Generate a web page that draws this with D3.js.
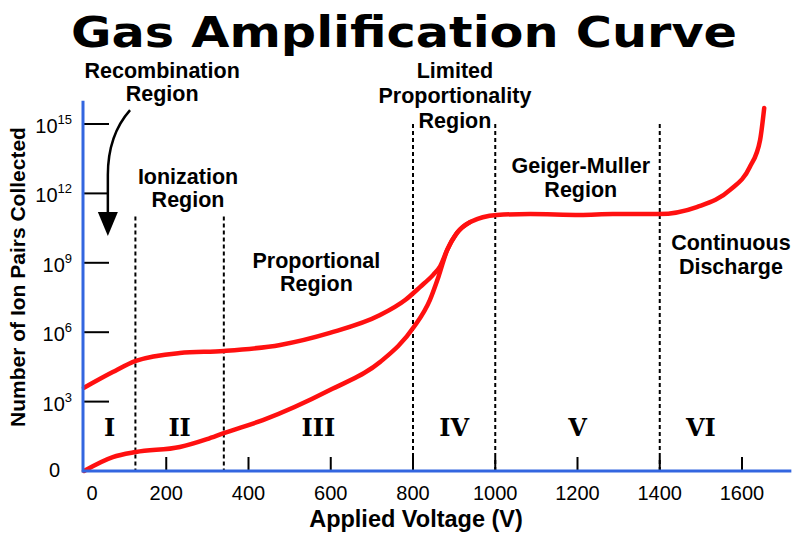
<!DOCTYPE html>
<html>
<head>
<meta charset="utf-8">
<script src="https://cdn.jsdelivr.net/npm/d3@7"></script>
<style>
  body { margin: 0; background: #fff; }
  text { font-family: "Liberation Sans", Arial, sans-serif; fill: #000; }
</style>
</head>
<body>
<svg id="chart" width="800" height="534"></svg>
<script>
// axis ticks
var voltageTicks = [0, 200, 400, 600, 800, 1000, 1200, 1400, 1600];
var exponentTicks = [3, 6, 9, 12, 15];

// region boundaries (V) and numerals
var regionBounds = [125, 340, 800, 1000, 1400];
var regionEdges = [0, 125, 340, 800, 1000, 1400, 1600];
var regionNumerals = ["I", "II", "III", "IV", "V", "VI"];

// upper curve (alpha particles): voltage and log10(ion pairs)
var upperVolts = [0, 70, 126, 233, 340, 477, 598, 720, 781, 817, 850, 866, 883, 907, 939, 1004, 1085, 1206, 1286, 1398, 1490, 1571, 1619, 1644, 1654];
var upperExp   = [3.6, 4.28, 4.76, 5.1, 5.19, 5.45, 5.97, 6.74, 7.39, 7.95, 8.5, 8.85, 9.55, 10.29, 10.76, 11.07, 11.11, 11.07, 11.11, 11.11, 11.41, 12.15, 13.14, 14.31, 15.69];

// lower curve (beta particles)
var lowerVolts = [0, 70, 126, 233, 299, 340, 435, 598, 720, 802, 841, 862, 883, 907, 939];
var lowerExp   = [0, 0.6, 0.82, 1.04, 1.38, 1.64, 2.2, 3.5, 4.71, 6.22, 7.39, 8.4, 9.55, 10.29, 10.76];

// text annotations: lines, centre voltage, log10 of first baseline
var annotLines = [["Recombination", "Region"], ["Ionization", "Region"], ["Proportional", "Region"],
                  ["Limited", "Proportionality", "Region"], ["Geiger-Muller", "Region"], ["Continuous", "Discharge"]];
var annotVolts = [190, 253, 565, 902, 1208, 1573];
var annotExp   = [16.99, 12.41, 8.78, 16.99, 12.88, 9.55];

var svg = d3.select("#chart");

var x = d3.scaleLinear().domain([0, 1600]).range([84, 742]);
var y = d3.scaleLog().domain([1, 1e15]).range([471, 124]);

var blue = "#3366e0", red = "#ff1010";

// title
svg.append("text")
  .attr("x", 404).attr("y", 47)
  .attr("text-anchor", "middle")
  .attr("textLength", 666).attr("lengthAdjust", "spacingAndGlyphs")
  .style("font-family", "'DejaVu Sans', sans-serif")
  .style("font-weight", "bold").style("font-size", "42px")
  .text("Gas Amplification Curve");

// dashed region boundaries
var dashTops = [11, 11, 15.0, 15.0, 15.0];
svg.selectAll(".bound").data(regionBounds).enter().append("line")
  .attr("class", "bound")
  .attr("x1", function (d) { return x(d); }).attr("x2", function (d) { return x(d); })
  .attr("y1", function (d, i) { return y(Math.pow(10, dashTops[i])); })
  .attr("y2", y(1))
  .attr("stroke", "#000").attr("stroke-width", 2)
  .attr("stroke-dasharray", "4,3");

// ticks (inward)
svg.selectAll(".xtick").data(voltageTicks.slice(1)).enter().append("line")
  .attr("x1", function (d) { return x(d); }).attr("x2", function (d) { return x(d); })
  .attr("y1", y(1)).attr("y2", y(1) - 14)
  .attr("stroke", "#000").attr("stroke-width", 2);

svg.selectAll(".ytick").data(exponentTicks).enter().append("line")
  .attr("x1", x(0)).attr("x2", x(0) + 25)
  .attr("y1", function (d) { return y(Math.pow(10, d)); })
  .attr("y2", function (d) { return y(Math.pow(10, d)); })
  .attr("stroke", "#000").attr("stroke-width", 2);

// tick labels
svg.selectAll(".xlab").data(voltageTicks).enter().append("text")
  .attr("x", function (d) { return d === 0 ? x(d) + 8 : x(d); })
  .attr("y", 500)
  .attr("text-anchor", "middle")
  .style("font-size", "20px")
  .text(function (d) { return d; });

var ylab = svg.selectAll(".ylab").data(exponentTicks).enter().append("text")
  .attr("x", 72)
  .attr("y", function (d) { return y(Math.pow(10, d)) + 9; })
  .attr("text-anchor", "end")
  .style("font-size", "20px");
ylab.append("tspan").text("10");
ylab.append("tspan").attr("dy", -9).style("font-size", "13px").text(function (d) { return d; });

svg.append("text")
  .attr("x", 60).attr("y", y(1) + 6)
  .attr("text-anchor", "end")
  .style("font-size", "20px")
  .text("0");

// axis titles
svg.append("text")
  .attr("transform", "translate(25,277) rotate(-90)")
  .attr("text-anchor", "middle")
  .style("font-weight", "bold").style("font-size", "21px")
  .text("Number of Ion Pairs Collected");

svg.append("text")
  .attr("x", 416).attr("y", 527)
  .attr("text-anchor", "middle")
  .style("font-weight", "bold").style("font-size", "23.5px")
  .text("Applied Voltage (V)");

// region numerals
svg.selectAll(".num").data(regionNumerals).enter().append("text")
  .attr("x", function (d, i) { return x((regionEdges[i] + regionEdges[i + 1]) / 2); })
  .attr("y", y(Math.pow(10, 1.51)))
  .attr("text-anchor", "middle")
  .style("font-family", "'DejaVu Serif', serif")
  .style("font-weight", "bold").style("font-size", "24px")
  .text(function (d) { return d; });

// annotations
annotLines.forEach(function (lines, i) {
  var t = svg.append("text")
    .attr("text-anchor", "middle")
    .style("font-weight", "bold").style("font-size", "21.5px");
  lines.forEach(function (l, j) {
    t.append("tspan")
      .attr("x", x(annotVolts[i]))
      .attr("y", y(Math.pow(10, annotExp[i])) + j * (lines.length > 2 ? 25 : 23.5))
      .text(l);
  });
});

// recombination arrow
var arrowStart = [112, 15.6], arrowTip = [58, 10.16];
var sx = x(arrowStart[0]), sy = y(Math.pow(10, arrowStart[1]));
var tx = x(arrowTip[0]), ty = y(Math.pow(10, arrowTip[1]));
svg.append("path")
  .attr("d", "M" + sx + "," + sy + " Q" + tx + "," + (sy + 25) + " " + tx + "," + (sy + 65) + " L" + tx + "," + (ty - 20))
  .attr("fill", "none").attr("stroke", "#000").attr("stroke-width", 2.5);
svg.append("path")
  .attr("d", "M" + (tx - 10) + "," + (ty - 24) + " L" + (tx + 10) + "," + (ty - 24) + " L" + tx + "," + ty + " Z")
  .attr("fill", "#000");

// curves
var line = d3.line()
  .x(function (d) { return x(d[0]); })
  .y(function (d) { return y(Math.pow(10, d[1])); })
  .curve(d3.curveMonotoneX);

svg.append("path")
  .datum(lowerVolts.map(function (v, i) { return [v, lowerExp[i]]; }))
  .attr("d", line)
  .attr("fill", "none").attr("stroke", red).attr("stroke-width", 4.5).attr("stroke-linecap", "round");

svg.append("path")
  .datum(upperVolts.map(function (v, i) { return [v, upperExp[i]]; }))
  .attr("d", line)
  .attr("fill", "none").attr("stroke", red).attr("stroke-width", 4.5).attr("stroke-linecap", "round");

// blue axes
svg.append("line")
  .attr("x1", x(0) - 1).attr("x2", x(1720))
  .attr("y1", y(1)).attr("y2", y(1))
  .attr("stroke", blue).attr("stroke-width", 3);
svg.append("line")
  .attr("x1", x(0) - 1).attr("x2", x(0) - 1)
  .attr("y1", y(1e16)).attr("y2", y(1) + 1.5)
  .attr("stroke", blue).attr("stroke-width", 3);
</script>
</body>
</html>
